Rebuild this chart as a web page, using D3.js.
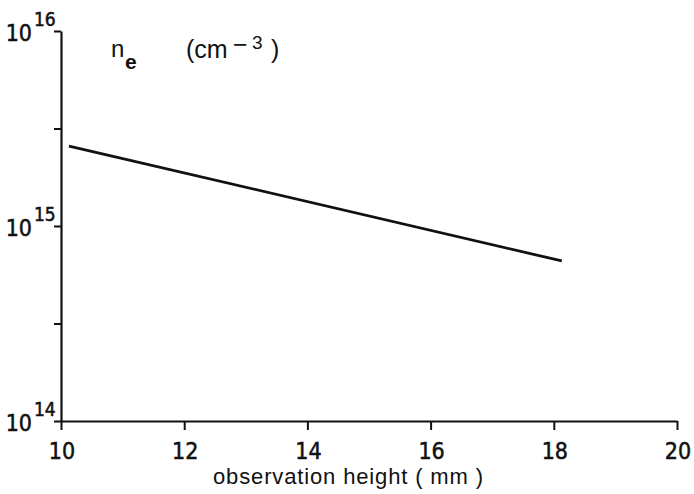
<!DOCTYPE html>
<html>
<head>
<meta charset="utf-8">
<script src="https://cdn.jsdelivr.net/npm/d3@7"></script>
<style>
  html, body { margin: 0; padding: 0; background: #fff; }
  svg { display: block; }
  .num { font-family: "Liberation Sans Narrow", "Arial Narrow", "DejaVu Sans Condensed", sans-serif; fill: #111; stroke: #111; stroke-width: 0.5; }
  .lab { font-family: "Liberation Sans", Arial, sans-serif; fill: #111; }
</style>
</head>
<body>
<svg id="chart" width="694" height="494"></svg>
<script>
// Electron density along the observation height
const heights = [10.13, 18.13];          // mm
const density = [2.57e15, 6.62e14];      // cm^-3

// Axis ticks
const xTicks = [10, 12, 14, 16, 18, 20];
const yDecades = [14, 15, 16];           // labelled powers of ten
const yHalfDecades = [14.5, 15.5];       // unlabelled intermediate ticks

const svg = d3.select("#chart");

const x = d3.scaleLinear().domain([10, 20]).range([61, 677]);
const y = d3.scaleLog().domain([1e14, 1e16]).range([421, 31]);

const ink = "#111";

// Left axis
const yAxis = d3.axisLeft(y)
  .tickValues(yDecades.concat(yHalfDecades).map(e => Math.pow(10, e)))
  .tickFormat("")
  .tickSize(7)
  .tickSizeOuter(0);
const gy = svg.append("g").attr("transform", `translate(${x(10)},0)`).call(yAxis);

// Bottom axis
const xAxis = d3.axisBottom(x)
  .tickValues(xTicks)
  .tickFormat("")
  .tickSize(9)
  .tickSizeOuter(0);
const gx = svg.append("g").attr("transform", `translate(0,${y(1e14)})`).call(xAxis);

[gx, gy].forEach(g => {
  g.select(".domain").attr("stroke", ink).attr("stroke-width", 2.2);
  g.selectAll(".tick line").attr("stroke", ink).attr("stroke-width", 2);
});

// x tick labels
svg.append("g").selectAll("text")
  .data(xTicks)
  .join("text")
  .attr("class", "num")
  .attr("x", d => x(d) + 1)
  .attr("y", 459)
  .attr("text-anchor", "middle")
  .attr("font-size", 23)
  .text(d => d);

// y tick labels as 10 with superscript exponent
const yl = svg.append("g").selectAll("g")
  .data(yDecades)
  .join("g")
  .attr("transform", d => `translate(32,${y(Math.pow(10, d)) + 10})`);
yl.append("text")
  .attr("class", "num")
  .attr("text-anchor", "end")
  .attr("font-size", 23)
  .text("10");
yl.append("text")
  .attr("class", "num")
  .attr("x", 2)
  .attr("y", -15)
  .attr("font-size", 19)
  .text(d => d);

// Density line
const line = d3.line()
  .x((d, i) => x(heights[i]))
  .y(d => y(d));
svg.append("path")
  .datum(density)
  .attr("d", line)
  .attr("fill", "none")
  .attr("stroke", ink)
  .attr("stroke-width", 2.8)
  .attr("stroke-linecap", "butt");

// Quantity label: n_e (cm^-3)
svg.append("text").attr("class", "lab").attr("x", 111).attr("y", 57)
  .attr("font-size", 24).text("n");
svg.append("text").attr("class", "lab").attr("x", 125).attr("y", 69)
  .attr("font-size", 21).attr("font-weight", "bold").text("e");
svg.append("text").attr("class", "lab").attr("x", 186).attr("y", 58)
  .attr("font-size", 25).text("(cm");
svg.append("text").attr("class", "lab").attr("x", 233).attr("y", 53)
  .attr("font-size", 25).text("\u2212");
svg.append("text").attr("class", "lab").attr("x", 252).attr("y", 49)
  .attr("font-size", 19).text("3");
svg.append("text").attr("class", "lab").attr("x", 271).attr("y", 58)
  .attr("font-size", 25).text(")");

// Horizontal axis title
svg.append("text")
  .attr("class", "lab")
  .attr("x", 213)
  .attr("y", 484)
  .attr("font-size", 22)
  .attr("textLength", 270)
  .attr("lengthAdjust", "spacing")
  .text("observation height ( mm )");
</script>
</body>
</html>
